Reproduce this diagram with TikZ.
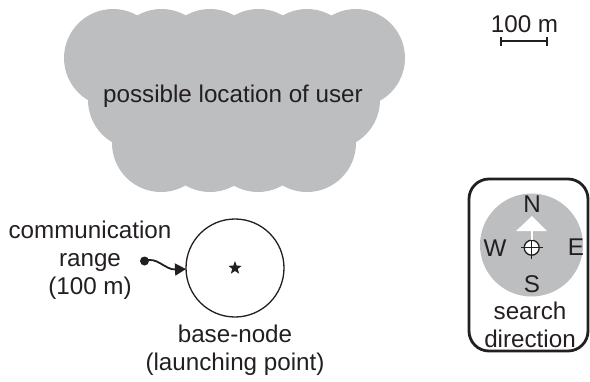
\documentclass[tikz,border=0pt]{standalone}
\usepackage{fontspec}
\setmainfont{Liberation Sans}
\usetikzlibrary{arrows.meta,shapes.geometric}
\definecolor{blobgrey}{RGB}{188,190,192}
\definecolor{inkc}{RGB}{35,31,32}
\tikzset{
  txt/.style={text=inkc,font=\fontsize{24.2}{28}\selectfont,inner sep=0pt,align=center},
  lobe/.style={circle,fill=blobgrey,minimum size=98pt,inner sep=0pt},
}
\begin{document}
\begin{tikzpicture}[x=1pt,y=-1pt,line join=round]
\useasboundingbox (0,0) rectangle (590,381);
% cloud
\foreach \x in {113,161.5,210,258.5,307,356} \node[lobe] at (\x,58) {};
\foreach \x in {137,185,234,283,331} \node[lobe] at (\x,100) {};
\foreach \x in {161,210,258,307} \node[lobe] at (\x,143) {};
\fill[blobgrey] (113,58) rectangle (356,143);
\node[txt] (loc) at (233,96.5) {possible location of user};
% scale
\coordinate (sl) at (500,41);
\coordinate (sr) at (548,41);
\draw[inkc,line width=2pt,{Bar[width=9pt,line width=1.8pt]}-{Bar[width=9pt,line width=1.8pt]}] (sl) -- (sr);
\node[txt] (sc) at (524.5,24) {100 m};
% base node
\node[circle,draw=inkc,line width=1.3pt,minimum size=98pt,inner sep=0pt] (base) at (235,268) {};
\node[star,star points=5,star point ratio=2.4,fill=inkc,minimum size=14pt,inner sep=0pt] (st) at (235,268) {};
\node[txt] (range) at (90,260) {communication\\range\\(100 m)};
\node[txt] (bn) at (235,350.5) {base-node\\(launching point)};
\node[circle,fill=inkc,minimum size=9pt,inner sep=0pt] (dot) at (144.5,261) {};
\coordinate (tip) at (186,269);
\draw[inkc,line width=1.8pt,-{Triangle[length=11pt,width=12pt]}] (dot.center) .. controls (157,256) and (165,270) .. (tip);
% compass
\node[draw=inkc,line width=2.8pt,rounded corners=20pt,minimum width=119pt,minimum height=172pt,inner sep=0pt] (box) at (528.5,265) {};
\node[circle,fill=blobgrey,minimum size=103pt,inner sep=0pt] (disc) at (531.5,245) {};
\node[txt] (n) at (532,204) {N};
\node[txt] (w) at (495,248) {W};
\node[txt] (e) at (576,247) {E};
\node[txt] (s) at (532,284) {S};
\node[circle,draw=inkc,fill=white,line width=1.3pt,minimum size=15pt,inner sep=0pt] (cr) at (531.7,247.7) {};
\draw[white,line width=2pt] (cr.north) -- (531.7,230);
\fill[white] (516,231) -- (532,216) -- (547,231) -- cycle;
\draw[inkc,line width=1.3pt] (521,247.7) -- (542.5,247.7) (531.7,240) -- (531.7,258.5);
\node[txt] (sd) at (530,325) {search\\direction};
\end{tikzpicture}
\end{document}
